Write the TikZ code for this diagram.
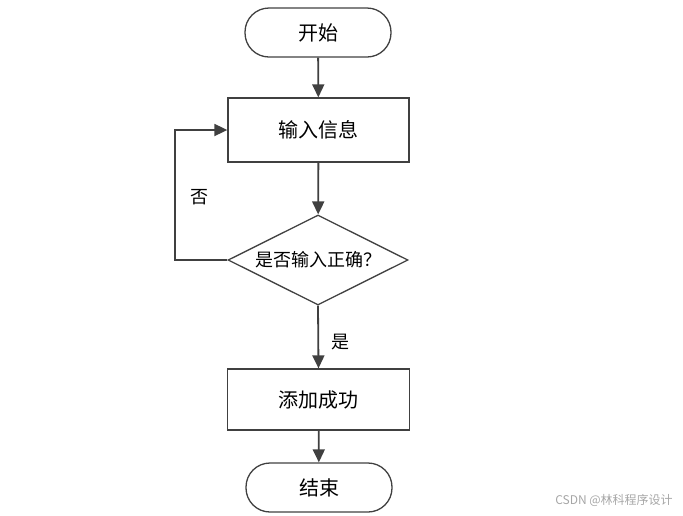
\documentclass[tikz,border=0pt]{standalone}
\usepackage{fontspec}
\newfontfamily\cjk{Noto Sans CJK SC}
\usetikzlibrary{shapes.geometric,arrows.meta}
\definecolor{lc}{HTML}{404040}
\begin{document}
\begin{tikzpicture}[x=1pt,y=-1pt,
  every node/.style={font=\cjk\fontsize{20}{23}\selectfont, text=black},
  term/.style={draw=lc, line width=1.3pt, rounded corners=24pt, minimum width=146pt, minimum height=49pt, inner sep=0pt},
  procbox/.style={draw=lc, line width=1.3pt, minimum width=181pt, minimum height=64pt, inner sep=0pt},
  decbox/.style={draw=lc, line width=1.3pt, diamond, aspect=2, minimum width=180pt, minimum height=90pt, inner sep=0pt, font=\cjk\fontsize{18}{20}\selectfont},
  conn/.style={draw=lc, line width=1.8pt, -{Triangle[length=13pt,width=12pt]}},
  lbl/.style={font=\cjk\fontsize{18}{20}\selectfont}
]
\useasboundingbox (0,0) rectangle (683,515);
\node[term] (start) at (318,32.5) {开始};
\node[procbox] (input) at (318.5,130) {输入信息};
\node[decbox] (dec) at (318,260) {是否输入正确？};
\node[procbox, minimum height=61pt, minimum width=182pt] (add) at (318.5,399.5) {添加成功};
\node[term] (end) at (319,487.5) {结束};
\coordinate (loopc) at (175,130);
\draw[conn] (start) -- (input);
\draw[conn] (input) -- (dec);
\draw[conn] (dec.west) -| (loopc) -- (input.west);
\draw[conn] (dec.south) -- (add.north);
\draw[conn] (add) -- (end);
\node[lbl] (no) at (199,197) {否};
\node[lbl] (yes) at (340,342) {是};
\node[font=\cjk\fontsize{12}{14}\selectfont, text=black!35] (wm) at (614,500) {CSDN @林科程序设计};
\end{tikzpicture}
\end{document}
